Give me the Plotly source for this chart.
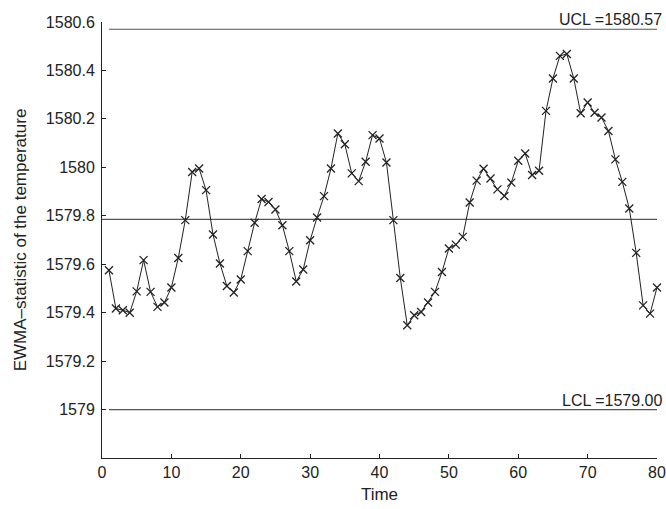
import plotly.graph_objects as go

time = list(range(1, 81))
ewma = [
    1579.575, 1579.417, 1579.410, 1579.400, 1579.488, 1579.617, 1579.486, 1579.424, 1579.442, 1579.504,
    1579.626, 1579.782, 1579.981, 1579.995, 1579.906, 1579.723, 1579.603, 1579.510, 1579.483, 1579.537,
    1579.654, 1579.771, 1579.869, 1579.857, 1579.826, 1579.761, 1579.654, 1579.529, 1579.578, 1579.699,
    1579.793, 1579.881, 1579.995, 1580.140, 1580.095, 1579.975, 1579.943, 1580.023, 1580.133, 1580.119,
    1580.020, 1579.782, 1579.543, 1579.348, 1579.389, 1579.403, 1579.442, 1579.486, 1579.568, 1579.665,
    1579.681, 1579.713, 1579.855, 1579.945, 1579.994, 1579.954, 1579.909, 1579.882, 1579.937, 1580.027,
    1580.057, 1579.968, 1579.986, 1580.233, 1580.367, 1580.460, 1580.468, 1580.367, 1580.223, 1580.268,
    1580.225, 1580.206, 1580.150, 1580.033, 1579.940, 1579.830, 1579.647, 1579.430, 1579.396, 1579.504,
]
UCL = 1580.57
CL = 1579.785
LCL = 1579.00

x_ticks = [0, 10, 20, 30, 40, 50, 60, 70, 80]
y_ticks = [1579.0, 1579.2, 1579.4, 1579.6, 1579.8, 1580.0, 1580.2, 1580.4, 1580.6]
y_tick_text = ["1579", "1579.2", "1579.4", "1579.6", "1579.8", "1580", "1580.2", "1580.4", "1580.6"]

fig = go.Figure()
fig.add_trace(go.Scatter(x=[1, 80], y=[UCL, UCL], mode="lines",
                         line=dict(color="#555555", width=1.2), hoverinfo="skip"))
fig.add_trace(go.Scatter(x=[0, 80], y=[CL, CL], mode="lines",
                         line=dict(color="#555555", width=1.2), hoverinfo="skip"))
fig.add_trace(go.Scatter(x=[1, 80], y=[LCL, LCL], mode="lines",
                         line=dict(color="#555555", width=1.2), hoverinfo="skip"))
fig.add_trace(go.Scatter(
    x=time, y=ewma, mode="lines+markers",
    line=dict(color="#222222", width=1),
    marker=dict(symbol="x-thin", size=8, line=dict(color="#222222", width=1.3)),
    cliponaxis=False,
))

font_family = "Liberation Sans, Arial, sans-serif"
fig.add_annotation(x=80, y=UCL, xref="x", yref="y", text="UCL =1580.57",
                   showarrow=False, xanchor="right", yanchor="bottom", xshift=7, yshift=-1,
                   font=dict(size=16, color="#222222", family=font_family))
fig.add_annotation(x=80, y=LCL, xref="x", yref="y", text="LCL =1579.00",
                   showarrow=False, xanchor="right", yanchor="bottom", xshift=7, yshift=-1,
                   font=dict(size=16, color="#222222", family=font_family))

fig.update_layout(
    width=666, height=509,
    margin=dict(l=102, r=9, t=22, b=51, autoexpand=False),
    paper_bgcolor="white", plot_bgcolor="white",
    showlegend=False,
    font=dict(family=font_family, size=16, color="#222222"),
    xaxis=dict(range=[0, 80], tickvals=x_ticks, showline=True, linecolor="#222222",
               linewidth=1, ticks="inside", ticklen=4, tickcolor="#222222",
               showgrid=False, zeroline=False, mirror=False, automargin=False,
               tickfont=dict(size=16),
               title=dict(text="Time", font=dict(size=17), standoff=7)),
    yaxis=dict(range=[1578.8, 1580.6], tickvals=y_ticks, ticktext=y_tick_text,
               showline=True, linecolor="#222222", linewidth=1, ticks="inside",
               ticklen=4, tickcolor="#222222", showgrid=False, zeroline=False,
               mirror=False, automargin=False, ticklabelstandoff=3,
               tickfont=dict(size=16),
               title=dict(text="EWMA–statistic of the temperature", font=dict(size=17), standoff=14)),
)

fig.write_html("out.html")
